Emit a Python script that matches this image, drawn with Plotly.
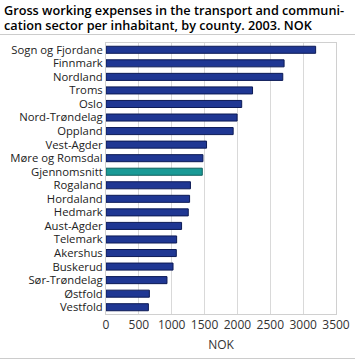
import plotly.graph_objects as go

counties = ["Sogn og Fjordane", "Finnmark", "Nordland", "Troms", "Oslo",
            "Nord-Trøndelag", "Oppland", "Vest-Agder", "Møre og Romsdal",
            "Gjennomsnitt", "Rogaland", "Hordaland", "Hedmark", "Aust-Agder",
            "Telemark", "Akershus", "Buskerud", "Sør-Trøndelag", "Østfold", "Vestfold"]
values = [3190, 2710, 2690, 2230, 2065, 1995, 1935, 1530, 1475, 1465,
          1285, 1272, 1252, 1150, 1075, 1070, 1020, 928, 660, 645]
highlight = "Gjennomsnitt"
x_ticks = [0, 500, 1000, 1500, 2000, 2500, 3000, 3500]
title_lines = ["Gross working expenses in the transport and communi-",
               "cation sector per inhabitant, by county. 2003. NOK"]

colors = ["#1a9a96" if c == highlight else "#1f3793" for c in counties]
lines = ["#0e5f5c" if c == highlight else "#0c1a55" for c in counties]

L, R, T, B = 106, 19, 43, 47
PW, PH = 355 - L - R, 361 - T - B


def px(xp):
    return (xp - L) / PW


def py(yp):
    return (361 - B - yp) / PH


fig = go.Figure(go.Bar(
    x=values, y=counties, orientation="h",
    marker=dict(color=colors, line=dict(color=lines, width=1)),
))

title_annos = [
    dict(text=t, xref="paper", yref="paper",
         x=px(2), y=py(yc), xanchor="left", yanchor="middle",
         align="left", showarrow=False,
         font=dict(family="Open Sans", size=12.7, color="#000000", weight=600))
    for t, yc in zip(title_lines, [10.5, 25])
]

# thin grey rules above the plot and at the bottom of the figure
rule_annos = [
    dict(text=" ", xref="paper", yref="paper",
         x=px(0), y=py(yr), xanchor="left", yanchor="middle",
         width=355, height=1, borderpad=0, borderwidth=0,
         bgcolor="#cccccc", showarrow=False, font=dict(size=1))
    for yr in [34, 358]
]

fig.update_layout(
    width=355, height=361,
    margin=dict(l=L, r=R, t=T, b=B, autoexpand=False),
    paper_bgcolor="white", plot_bgcolor="white",
    bargap=0.48,
    showlegend=False,
    font=dict(family="Open Sans", size=12, color="#333333"),
    xaxis=dict(
        range=[0, 3500], tickmode="array", tickvals=x_ticks, ticks="",
        showgrid=True, gridcolor="#d9d9d9", gridwidth=1, automargin=False,
        showline=True, linecolor="#d0d0d0", mirror=True, zeroline=False,
        title=dict(text="NOK", font=dict(size=12, color="#333333"), standoff=8),
        tickfont=dict(size=12, color="#333333"),
    ),
    yaxis=dict(
        categoryorder="array", categoryarray=counties[::-1],
        tickmode="array", tickvals=counties, automargin=False,
        autorange=True, ticks="", ticklen=0,
        showline=True, linecolor="#d0d0d0", mirror=True,
        tickfont=dict(size=11.3, color="#222222"),
    ),
    annotations=title_annos + rule_annos,
)

fig.write_html("out.html", config={"displayModeBar": False},
               post_script="document.body.style.margin='0';")
